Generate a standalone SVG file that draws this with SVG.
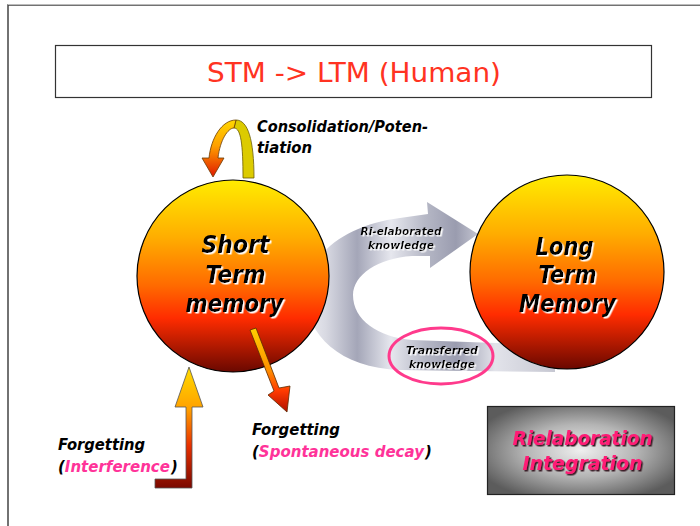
<svg xmlns="http://www.w3.org/2000/svg" width="700" height="526" viewBox="0 0 700 526">
<defs>
<linearGradient id="ball" x1="0" y1="0" x2="0" y2="1">
<stop offset="0" stop-color="#ffec00"/>
<stop offset="0.3" stop-color="#ffad00"/>
<stop offset="0.55" stop-color="#ff6a00"/>
<stop offset="0.72" stop-color="#ff2c00"/>
<stop offset="1" stop-color="#6a0800"/>
</linearGradient>
<linearGradient id="metal" x1="300" y1="0" x2="560" y2="0" gradientUnits="userSpaceOnUse">
<stop offset="0" stop-color="#f4f4f8"/>
<stop offset="0.1" stop-color="#d8d9e2"/>
<stop offset="0.22" stop-color="#a4a6b8"/>
<stop offset="0.35" stop-color="#e6e7ee"/>
<stop offset="0.48" stop-color="#b6b8c6"/>
<stop offset="0.6" stop-color="#9a9caf"/>
<stop offset="0.75" stop-color="#e2e3ea"/>
<stop offset="1" stop-color="#c4c5d0"/>
</linearGradient>
<linearGradient id="consol" x1="0" y1="0" x2="0" y2="1">
<stop offset="0" stop-color="#ffd800"/>
<stop offset="0.45" stop-color="#ffa000"/>
<stop offset="1" stop-color="#e01800"/>
</linearGradient>
<linearGradient id="interf" x1="0" y1="0" x2="0" y2="1">
<stop offset="0" stop-color="#ffdc00"/>
<stop offset="0.35" stop-color="#ffa000"/>
<stop offset="0.65" stop-color="#e83000"/>
<stop offset="1" stop-color="#7a0800"/>
</linearGradient>
<linearGradient id="decay" x1="0" y1="0" x2="0" y2="1">
<stop offset="0" stop-color="#ffd000"/>
<stop offset="0.5" stop-color="#ff9000"/>
<stop offset="0.75" stop-color="#ff3a00"/>
<stop offset="1" stop-color="#b01000"/>
</linearGradient>
<radialGradient id="boxg" cx="0.5" cy="0.5" r="0.6">
<stop offset="0" stop-color="#efefef"/>
<stop offset="0.5" stop-color="#b4b4b4"/>
<stop offset="1" stop-color="#5c5c5c"/>
</radialGradient>
<filter id="ws" x="-10%" y="-20%" width="120%" height="140%">
<feDropShadow dx="1.5" dy="1.5" stdDeviation="0" flood-color="#ffffff" flood-opacity="1"/>
</filter>
<filter id="ds" x="-10%" y="-20%" width="120%" height="140%">
<feDropShadow dx="1.5" dy="1.5" stdDeviation="0.3" flood-color="#3a1a28" flood-opacity="1"/>
</filter>
<style>
.bi{font-family:"DejaVu Sans","Liberation Sans",sans-serif;font-weight:bold;font-style:italic}
.big{font-size:24px}
.mid{font-size:15px}
.sm{font-size:11px}
.emb{fill:#000000;filter:url(#ws)}
.ink{fill:#000000}
.pink{fill:#ff3399}
.rie{fill:#ff1a75;font-size:19px;filter:url(#ds)}
.ball{fill:url(#ball);stroke:#000;stroke-width:1.2}
</style>
</defs>
<rect width="700" height="526" fill="#ffffff"/>
<path d="M8 526 L8 5 L700 5" fill="none" stroke="#444" stroke-width="1.5"/>
<path d="M8 4.5 L700 4.5" stroke="#bbb" stroke-width="1"/>

<g id="title">
<rect x="55.5" y="45.5" width="596" height="52" fill="#ffffff" stroke="#333" stroke-width="1.2"/>
<text x="354" y="82" text-anchor="middle" font-family="DejaVu Sans, sans-serif" font-size="26" fill="#ff3322" textLength="294" lengthAdjust="spacingAndGlyphs">STM -&gt; LTM  (Human)</text>
</g>

<g id="connectors">
<g id="reelab-arrow">
<path d="M 555 372 L 400 370 C 340 368 306 335 306 295 C 306 255 345 225 400 218 L 428 214 L 427 202 L 478 234 L 430 268 L 430 256 L 412 256 C 378 258 353 275 353 295 C 353 320 378 337 412 340 L 555 345 Z" fill="url(#metal)"/>
<text class="bi sm emb" x="401" y="235" text-anchor="middle" textLength="81" lengthAdjust="spacingAndGlyphs">Ri-elaborated</text>
<text class="bi sm emb" x="401" y="249" text-anchor="middle" textLength="66" lengthAdjust="spacingAndGlyphs">knowledge</text>
</g>
<g id="consolidation-arrow">
<path d="M 236 120 C 248 120 254 140 254 178 L 243 178 C 243 145 241 128 234 128 Z" fill="#dccb00" stroke="#6b5a00" stroke-width="0.8"/>
<path d="M 236 120 C 222 120 211 138 209 158 L 202 158 L 213 177 L 224 158 L 218 158 C 220 140 228 128 234 128 Z" fill="url(#consol)" stroke="#6b3a00" stroke-width="0.8"/>
<text class="bi mid ink" x="257" y="132" textLength="171" lengthAdjust="spacingAndGlyphs">Consolidation/Poten-</text>
<text class="bi mid ink" x="257" y="153" textLength="55" lengthAdjust="spacingAndGlyphs">tiation</text>
</g>
</g>

<g id="stm">
<circle class="ball" cx="233" cy="276" r="96"/>
<text class="bi big emb" x="235.5" y="253" text-anchor="middle" textLength="68" lengthAdjust="spacingAndGlyphs">Short</text>
<text class="bi big emb" x="235.5" y="283" text-anchor="middle" textLength="60" lengthAdjust="spacingAndGlyphs">Term</text>
<text class="bi big emb" x="234.5" y="312" text-anchor="middle" textLength="98" lengthAdjust="spacingAndGlyphs">memory</text>
</g>

<g id="ltm">
<circle class="ball" cx="567" cy="272" r="97"/>
<text class="bi big emb" x="564.5" y="255" text-anchor="middle" textLength="58" lengthAdjust="spacingAndGlyphs">Long</text>
<text class="bi big emb" x="567.5" y="283" text-anchor="middle" textLength="58" lengthAdjust="spacingAndGlyphs">Term</text>
<text class="bi big emb" x="567.5" y="312" text-anchor="middle" textLength="97" lengthAdjust="spacingAndGlyphs">Memory</text>
</g>

<g id="transferred">
<ellipse cx="441" cy="356" rx="52" ry="28" fill="none" stroke="#ff3a8c" stroke-width="3"/>
<text class="bi sm emb" x="442" y="354" text-anchor="middle" textLength="72" lengthAdjust="spacingAndGlyphs">Transferred</text>
<text class="bi sm emb" x="442" y="368" text-anchor="middle" textLength="66" lengthAdjust="spacingAndGlyphs">knowledge</text>
</g>

<g id="decay-arrow">
<path d="M 250 330 L 256 328 L 279 388 L 290 386 L 287 412 L 268 395 L 274 391 Z" fill="url(#decay)" stroke="#5a2a00" stroke-width="0.8"/>
<text class="bi mid ink" x="252" y="435" textLength="88" lengthAdjust="spacingAndGlyphs">Forgetting</text>
<text class="bi mid" x="252" y="457"><tspan class="ink">(</tspan><tspan class="pink">Spontaneous decay</tspan><tspan class="ink" dx="1">)</tspan></text>
</g>

<g id="interference-arrow">
<path d="M 155 479 L 186 479 L 186 407 L 175 407 L 189 367 L 203 407 L 192 407 L 192 488 L 155 488 Z" fill="url(#interf)" stroke="#555" stroke-width="0.8"/>
<text class="bi mid ink" x="58" y="450" textLength="87" lengthAdjust="spacingAndGlyphs">Forgetting</text>
<text class="bi mid" x="58" y="472"><tspan class="ink">(</tspan><tspan class="pink">Interference</tspan><tspan class="ink" dx="1">)</tspan></text>
</g>

<g id="rielaboration">
<rect x="487.5" y="406.5" width="187" height="88" fill="url(#boxg)" stroke="#222" stroke-width="1.2"/>
<text class="bi rie" x="582.5" y="445" text-anchor="middle" textLength="140" lengthAdjust="spacingAndGlyphs">Rielaboration</text>
<text class="bi rie" x="582.5" y="470" text-anchor="middle" textLength="120" lengthAdjust="spacingAndGlyphs">Integration</text>
</g>
</svg>
